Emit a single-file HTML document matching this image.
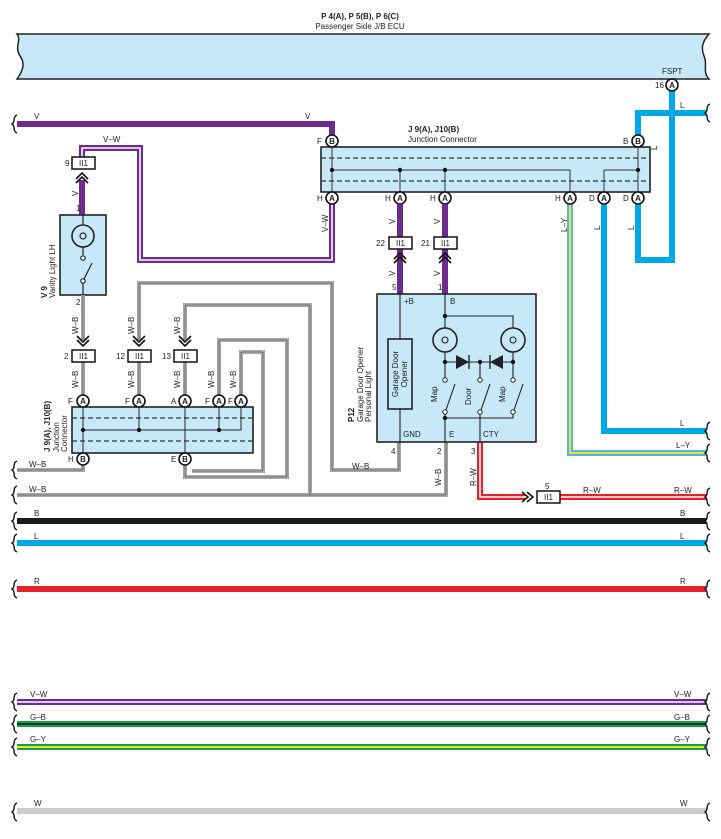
<!DOCTYPE html>
<html><head><meta charset="utf-8"><style>
html,body{margin:0;padding:0;background:#fff;}
svg{display:block;font-family:"Liberation Sans",sans-serif;}
text{font-size:8px;fill:#222;}
.b{font-weight:bold;}
</style></head><body>
<svg width="721" height="839" viewBox="0 0 721 839" xmlns="http://www.w3.org/2000/svg">
<defs>
<g id="pinA"><circle r="6" fill="#fff" stroke="#111" stroke-width="1.6"/><text x="0" y="3" text-anchor="middle" style="font-size:8px;font-weight:bold">A</text></g>
<g id="pinB"><circle r="6" fill="#fff" stroke="#111" stroke-width="1.6"/><text x="0" y="3" text-anchor="middle" style="font-size:8px;font-weight:bold">B</text></g>
<g id="conn"><rect x="-11" y="-6" width="23" height="12" fill="#fff" stroke="#111" stroke-width="1.5"/><text x="0.5" y="3" text-anchor="middle" style="font-size:8px">II1</text></g>
<g id="chevUp" fill="none" stroke="#111" stroke-width="1.6"><polyline points="-6,4 0,-2 6,4"/><polyline points="-6,8 0,2 6,8"/></g>
<g id="chevDn" fill="none" stroke="#111" stroke-width="1.6"><polyline points="-6,-4 0,2 6,-4"/><polyline points="-6,-8 0,-2 6,-8"/></g>
<path id="brace" d="M3,-9 C-2,-7 2,-2 -2,0 C2,2 -2,7 3,9" fill="none" stroke="#111" stroke-width="1.4"/>
</defs>

<text x="360" y="19" text-anchor="middle" class="b">P 4(A), P 5(B), P 6(C)</text>
<text x="360" y="29" text-anchor="middle">Passenger Side J/B ECU</text>
<path d="M17,34 H709 C704,40 700,46 704,56 C708,64 702,72 709,79 H17 C22,72 26,64 20,56 C14,46 22,40 17,34 Z" fill="#c6e8f8" stroke="#222" stroke-width="1.5"/>
<text x="662" y="74">FSPT</text>

<g fill="none" stroke="#00a8e8" stroke-width="6">
<path d="M706,113 H638 V141"/>
<path d="M638,198 V260 H672 V91"/>
<path d="M604,198 V431 H706"/>
</g>
<path d="M570,198 V453 H706" fill="none" stroke="#4ab8ec" stroke-width="6"/>
<path d="M570,198 V453 H706" fill="none" stroke="#f8e020" stroke-width="2"/>
<use href="#pinA" x="672" y="85"/><text x="655" y="88">16</text>
<text x="680" y="108">L</text>
<text x="657" y="150" transform="rotate(-90 657 150)">L</text>
<text x="600" y="230" transform="rotate(-90 600 230)">L</text>
<text x="634" y="230" transform="rotate(-90 634 230)">L</text>
<text x="567" y="232" transform="rotate(-90 567 232)">L–Y</text>
<text x="680" y="426">L</text>
<text x="676" y="448">L–Y</text>

<path d="M17,124 H332 V141" fill="none" stroke="#6e2a8c" stroke-width="6"/>
<text x="34" y="119">V</text><text x="305" y="119">V</text>

<path d="M332,204 V260 H140 V148 H82 V158" fill="none" stroke="#6e2a8c" stroke-width="6"/>
<path d="M332,204 V260 H140 V148 H82 V158" fill="none" stroke="#fff" stroke-width="1.6"/>
<text x="103" y="142">V–W</text>
<text x="328" y="232" transform="rotate(-90 328 232)">V–W</text>

<text x="408" y="132" class="b">J 9(A), J10(B)</text>
<text x="408" y="142">Junction Connector</text>
<rect x="321" y="147" width="329" height="45" fill="#c6e8f8" stroke="#222" stroke-width="1.6"/>
<g stroke="#333" stroke-width="1.2" stroke-dasharray="5,3"><line x1="321" y1="158" x2="650" y2="158"/><line x1="321" y1="181" x2="650" y2="181"/></g>
<g stroke="#333" stroke-width="1" fill="none">
<line x1="332" y1="147" x2="332" y2="192"/>
<path d="M332,170 H570 V192"/>
<line x1="400" y1="170" x2="400" y2="192"/>
<line x1="445" y1="170" x2="445" y2="192"/>
<path d="M604,192 V170 H638"/>
<line x1="638" y1="147" x2="638" y2="192"/>
</g>
<g fill="#111"><circle cx="332" cy="170" r="2.2"/><circle cx="400" cy="170" r="2.2"/><circle cx="445" cy="170" r="2.2"/><circle cx="638" cy="170" r="2.2"/></g>
<use href="#pinB" x="332" y="141"/><text x="317" y="144">F</text>
<use href="#pinB" x="638" y="141"/><text x="623" y="144">B</text>
<use href="#pinA" x="332" y="198"/><text x="317" y="201">H</text>
<use href="#pinA" x="400" y="198"/><text x="385" y="201">H</text>
<use href="#pinA" x="445" y="198"/><text x="430" y="201">H</text>
<use href="#pinA" x="570" y="198"/><text x="555" y="201">H</text>
<use href="#pinA" x="604" y="198"/><text x="589" y="201">D</text>
<use href="#pinA" x="638" y="198"/><text x="623" y="201">D</text>

<g stroke="#6e2a8c" stroke-width="6"><line x1="400" y1="204" x2="400" y2="294"/><line x1="445" y1="204" x2="445" y2="294"/></g>
<use href="#conn" x="400" y="243"/><text x="376" y="246">22</text>
<use href="#conn" x="445" y="243"/><text x="421" y="246">21</text>
<use href="#chevUp" x="400" y="255"/><use href="#chevUp" x="445" y="255"/>
<text x="395" y="224" transform="rotate(-90 395 224)">V</text>
<text x="440" y="224" transform="rotate(-90 440 224)">V</text>
<text x="395" y="276" transform="rotate(-90 395 276)">V</text>
<text x="440" y="276" transform="rotate(-90 440 276)">V</text>
<text x="392" y="290">5</text><text x="438" y="290">1</text>

<path d="M82,180 V215" stroke="#6e2a8c" stroke-width="6"/>
<use href="#conn" x="83" y="163"/><text x="65" y="166">9</text>
<use href="#chevUp" x="82" y="175"/>
<text x="78" y="196" transform="rotate(-90 78 196)">V</text>
<text x="76" y="211">1</text>
<rect x="60" y="215" width="46" height="80" fill="#c6e8f8" stroke="#222" stroke-width="1.6"/>
<g stroke="#222" fill="none" stroke-width="1.2">
<line x1="83" y1="215" x2="83" y2="255"/>
<circle cx="83" cy="236" r="11" stroke-width="1.6" fill="#c6e8f8"/>
<path d="M80,236 a3,3 0 1 1 6,0 a3,3 0 1 1 -6,0"/>
<circle cx="83" cy="258" r="2.2" fill="#fff"/>
<circle cx="83" cy="281" r="2.2" fill="#fff"/>
<line x1="84" y1="279" x2="92" y2="263"/>
<line x1="83" y1="283" x2="83" y2="295"/>
</g>
<text x="55" y="298" transform="rotate(-90 55 298)">Vanity Light LH</text>
<text x="47" y="298" transform="rotate(-90 47 298)" class="b">V 9</text>

<g fill="none">
<g stroke="#8a8a8a" stroke-width="4">
<path d="M83,295 V340"/><path d="M83,362 V395"/>
<path d="M139,340 V283 H332 V470 H399 V442"/><path d="M139,362 V395"/>
<path d="M185,340 V305 H310 V495"/><path d="M185,362 V395"/>
<path d="M17,495 H446 V442"/>
<path d="M17,470 H83 V465"/>
<path d="M185,465 V477 H287 V340 H219 V395"/>
<path d="M241,395 V352 H263 V471 H192"/>
</g>
<g stroke="#fff" stroke-width="2.4">
<path d="M83,295 V340"/><path d="M83,362 V395"/>
<path d="M139,340 V283 H332 V470 H399 V442"/><path d="M139,362 V395"/>
<path d="M185,340 V305 H310 V495"/><path d="M185,362 V395"/>
<path d="M17,495 H446 V442"/>
<path d="M17,470 H83 V465"/>
<path d="M185,465 V477 H287 V340 H219 V395"/>
<path d="M241,395 V352 H263 V471 H192"/>
</g>
<g stroke="#222" stroke-width="1">
<path d="M83,295 V340"/><path d="M83,362 V395"/>
<path d="M139,340 V283 H332 V470 H399 V442"/><path d="M139,362 V395"/>
<path d="M185,340 V305 H310 V495"/><path d="M185,362 V395"/>
<path d="M17,495 H446 V442"/>
<path d="M17,470 H83 V465"/>
<path d="M185,465 V477 H287 V340 H219 V395"/>
<path d="M241,395 V352 H263 V471 H192"/>
</g>
</g>
<use href="#chevDn" x="83" y="344"/><use href="#chevDn" x="139" y="344"/><use href="#chevDn" x="185" y="344"/>
<use href="#conn" x="83" y="356"/><text x="64" y="359">2</text>
<use href="#conn" x="139" y="356"/><text x="116" y="359">12</text>
<use href="#conn" x="185" y="356"/><text x="162" y="359">13</text>
<text x="76" y="305">2</text>
<g>
<text x="78" y="334" transform="rotate(-90 78 334)">W–B</text>
<text x="134" y="334" transform="rotate(-90 134 334)">W–B</text>
<text x="180" y="334" transform="rotate(-90 180 334)">W–B</text>
<text x="78" y="388" transform="rotate(-90 78 388)">W–B</text>
<text x="134" y="388" transform="rotate(-90 134 388)">W–B</text>
<text x="180" y="388" transform="rotate(-90 180 388)">W–B</text>
<text x="214" y="388" transform="rotate(-90 214 388)">W–B</text>
<text x="236" y="388" transform="rotate(-90 236 388)">W–B</text>
<text x="441" y="486" transform="rotate(-90 441 486)">W–B</text>
</g>
<text x="29" y="467">W–B</text><text x="29" y="492">W–B</text><text x="352" y="469">W–B</text>

<rect x="72" y="407" width="181" height="46" fill="#c6e8f8" stroke="#222" stroke-width="1.6"/>
<g stroke="#333" stroke-width="1.2" stroke-dasharray="5,3"><line x1="72" y1="418" x2="253" y2="418"/><line x1="72" y1="441" x2="253" y2="441"/></g>
<g stroke="#222" stroke-width="1" fill="none">
<line x1="83" y1="407" x2="83" y2="453"/>
<path d="M83,430 H241 V407"/>
<line x1="139" y1="407" x2="139" y2="430"/>
<line x1="185" y1="407" x2="185" y2="453"/>
<line x1="219" y1="407" x2="219" y2="430"/>
</g>
<g fill="#111"><circle cx="83" cy="430" r="2.2"/><circle cx="139" cy="430" r="2.2"/><circle cx="219" cy="430" r="2.2"/></g>
<use href="#pinA" x="83" y="401"/><text x="68" y="404">F</text>
<use href="#pinA" x="139" y="401"/><text x="125" y="404">F</text>
<use href="#pinA" x="185" y="401"/><text x="171" y="404">A</text>
<use href="#pinA" x="219" y="401"/><text x="205" y="404">F</text>
<use href="#pinA" x="241" y="401"/><text x="228" y="404">F</text>
<use href="#pinB" x="83" y="459"/><text x="68" y="462">H</text>
<use href="#pinB" x="185" y="459"/><text x="171" y="462">E</text>
<text x="50" y="452" transform="rotate(-90 50 452)" class="b">J 9(A), J10(B)</text>
<text x="59" y="452" transform="rotate(-90 59 452)">Junction</text>
<text x="67" y="452" transform="rotate(-90 67 452)">Connector</text>

<path d="M480,442 V497 H525 M559,497 H706" fill="none" stroke="#e8202a" stroke-width="6"/>
<path d="M480,442 V497 H525 M559,497 H706" fill="none" stroke="#fff" stroke-width="1.6"/>
<g fill="none" stroke="#111" stroke-width="1.6"><polyline points="522,492 528,497 522,502"/><polyline points="527,492 533,497 527,502"/></g>
<use href="#conn" x="548" y="497"/><text x="545" y="489">5</text>
<text x="476" y="486" transform="rotate(-90 476 486)">R–W</text>
<text x="583" y="493">R–W</text><text x="674" y="493">R–W</text>
<text x="391" y="454">4</text><text x="437" y="454">2</text><text x="471" y="454">3</text>

<rect x="377" y="294" width="159" height="148" fill="#c6e8f8" stroke="#222" stroke-width="1.6"/>
<text x="404" y="304">+B</text><text x="450" y="304">B</text>
<text x="403" y="437">GND</text><text x="449" y="437">E</text><text x="483" y="437">CTY</text>
<g stroke="#222" stroke-width="1.1" fill="none">
<line x1="400" y1="294" x2="400" y2="339"/><line x1="400" y1="409" x2="400" y2="442"/>
<path d="M445,294 V328 M445,316 H513 V328"/>
<circle cx="445" cy="340" r="12" stroke-width="1.6"/><circle cx="513" cy="340" r="12" stroke-width="1.6"/>
<path d="M442,340 a3,3 0 1 1 6,0 a3,3 0 1 1 -6,0"/><path d="M510,340 a3,3 0 1 1 6,0 a3,3 0 1 1 -6,0"/>
<path d="M445,352 V378 M513,352 V378 M445,362 H513 M480,362 V378"/>
<path d="M446,410 L455,384 M481,410 L490,384 M514,410 L523,384"/>
<path d="M445,414 V442 M445,418 H513 V414 M480,414 V442"/>
</g>
<rect x="388" y="339" width="24" height="70" fill="#c6e8f8" stroke="#222" stroke-width="1.6"/>
<text x="398" y="374" transform="rotate(-90 398 374)" text-anchor="middle">Garage Door</text>
<text x="407" y="374" transform="rotate(-90 407 374)" text-anchor="middle">Opener</text>
<polygon points="456,355 469,362 456,369" fill="#222"/><line x1="469" y1="355" x2="469" y2="369" stroke="#222" stroke-width="1.4"/>
<polygon points="503,355 490,362 503,369" fill="#222"/><line x1="490" y1="355" x2="490" y2="369" stroke="#222" stroke-width="1.4"/>
<g fill="#fff" stroke="#222" stroke-width="1"><circle cx="445" cy="380" r="2.2"/><circle cx="480" cy="380" r="2.2"/><circle cx="513" cy="380" r="2.2"/><circle cx="445" cy="412" r="2.2"/><circle cx="480" cy="412" r="2.2"/><circle cx="513" cy="412" r="2.2"/></g>
<g fill="#111"><circle cx="445" cy="316" r="2.2"/><circle cx="445" cy="362" r="2.2"/><circle cx="480" cy="362" r="2.2"/><circle cx="513" cy="362" r="2.2"/><circle cx="445" cy="418" r="2.2"/></g>
<text x="437" y="402" transform="rotate(-90 437 402)">Map</text>
<text x="471" y="405" transform="rotate(-90 471 405)">Door</text>
<text x="505" y="402" transform="rotate(-90 505 402)">Map</text>
<text x="354" y="422" transform="rotate(-90 354 422)" class="b">P12</text>
<text x="363" y="422" transform="rotate(-90 363 422)">Garage Door Opener</text>
<text x="371" y="422" transform="rotate(-90 371 422)">Personal Light</text>

<line x1="17" y1="521" x2="706" y2="521" stroke="#1a1a1a" stroke-width="6"/>
<line x1="17" y1="543" x2="706" y2="543" stroke="#00a8e8" stroke-width="6"/>
<line x1="17" y1="589" x2="706" y2="589" stroke="#e8202a" stroke-width="6"/>
<line x1="17" y1="702" x2="706" y2="702" stroke="#6e2a8c" stroke-width="6"/>
<line x1="17" y1="702" x2="706" y2="702" stroke="#fff" stroke-width="1.5"/>
<line x1="17" y1="724" x2="706" y2="724" stroke="#10a050" stroke-width="6"/>
<line x1="17" y1="724" x2="706" y2="724" stroke="#111" stroke-width="1.5"/>
<line x1="17" y1="747" x2="706" y2="747" stroke="#10a050" stroke-width="6"/>
<line x1="17" y1="747" x2="706" y2="747" stroke="#f8e020" stroke-width="2"/>
<line x1="17" y1="812" x2="706" y2="812" stroke="#ccc" stroke-width="4"/>
<line x1="17" y1="809" x2="706" y2="809" stroke="#777" stroke-width="0.8"/>
<text x="34" y="516">B</text><text x="680" y="516">B</text>
<text x="34" y="539">L</text><text x="680" y="539">L</text>
<text x="34" y="584">R</text><text x="680" y="584">R</text>
<text x="30" y="697">V–W</text><text x="674" y="697">V–W</text>
<text x="30" y="720">G–B</text><text x="674" y="720">G–B</text>
<text x="30" y="742">G–Y</text><text x="674" y="742">G–Y</text>
<text x="34" y="806">W</text><text x="680" y="806">W</text>

<g>
<use href="#brace" x="14" y="124"/>
<use href="#brace" x="14" y="470"/><use href="#brace" x="14" y="495"/>
<use href="#brace" x="14" y="521"/><use href="#brace" x="14" y="543"/><use href="#brace" x="14" y="589"/>
<use href="#brace" x="14" y="702"/><use href="#brace" x="14" y="724"/><use href="#brace" x="14" y="747"/><use href="#brace" x="14" y="812"/>
<use href="#brace" x="707" y="113"/><use href="#brace" x="707" y="431"/><use href="#brace" x="707" y="453"/><use href="#brace" x="707" y="497"/>
<use href="#brace" x="707" y="521"/><use href="#brace" x="707" y="543"/><use href="#brace" x="707" y="589"/>
<use href="#brace" x="707" y="702"/><use href="#brace" x="707" y="724"/><use href="#brace" x="707" y="747"/><use href="#brace" x="707" y="812"/>
</g>
</svg>
</body></html>
